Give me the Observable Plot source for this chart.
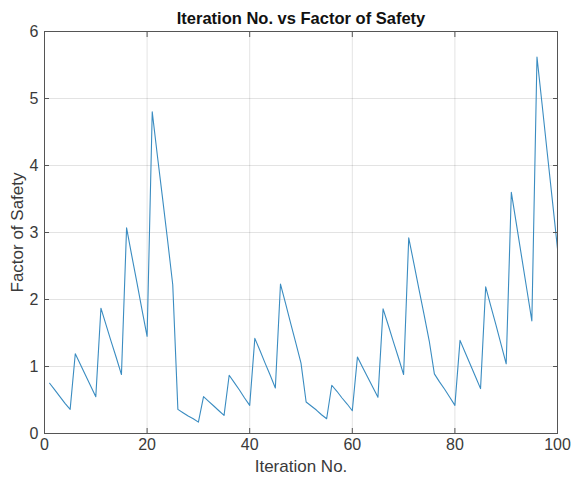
<!DOCTYPE html>
<html>
<head>
<meta charset="utf-8">
<script src="https://cdn.jsdelivr.net/npm/d3@7"></script>
<script src="https://cdn.jsdelivr.net/npm/@observablehq/plot@0.6"></script>
<style>
  html, body { margin: 0; padding: 0; background: #fff; }
  #chart svg { display: block; }
</style>
</head>
<body>
<div id="chart"></div>
<script>
const title = "Iteration No. vs Factor of Safety";
const xLabel = "Iteration No.";
const yLabel = "Factor of Safety";
const xTicks = [0, 20, 40, 60, 80, 100];
const yTicks = [0, 1, 2, 3, 4, 5, 6];

// Factor of safety for iterations 1..100
const factorOfSafety = [
  0.75, 0.65, 0.55, 0.45, 0.36,
  1.19, 1.03, 0.87, 0.71, 0.55,
  1.87, 1.62, 1.37, 1.13, 0.88,
  3.07, 2.66, 2.26, 1.85, 1.45,
  4.80, 4.15, 3.52, 2.88, 2.22,
  0.36, 0.31, 0.26, 0.22, 0.17,
  0.55, 0.48, 0.41, 0.34, 0.27,
  0.87, 0.76, 0.65, 0.53, 0.42,
  1.42, 1.24, 1.05, 0.87, 0.68,
  2.23, 1.94, 1.64, 1.35, 1.05,
  0.47, 0.41, 0.35, 0.28, 0.22,
  0.72, 0.63, 0.53, 0.44, 0.34,
  1.14, 0.99, 0.84, 0.69, 0.54,
  1.86, 1.62, 1.37, 1.13, 0.88,
  2.92, 2.54, 2.15, 1.77, 1.38,
  0.89, 0.77, 0.66, 0.54, 0.42,
  1.39, 1.21, 1.03, 0.85, 0.67,
  2.19, 1.90, 1.62, 1.33, 1.04,
  3.60, 3.12, 2.64, 2.16, 1.68,
  5.62, 4.91, 4.19, 3.48, 2.76
];

const data = factorOfSafety.map((v, i) => ({iteration: i + 1, fos: v}));
const textColor = "#3a3a3a";
const fmt = d3.format("d");

const chart = Plot.plot({
  width: 574,
  height: 485,
  marginLeft: 44,
  marginRight: 17,
  marginTop: 31,
  marginBottom: 52,
  style: {fontFamily: "'Liberation Sans', Arial, Helvetica, sans-serif", background: "#fff"},
  x: {domain: [0, 100]},
  y: {domain: [0, 6]},
  marks: [
    Plot.gridX(xTicks, {stroke: "#000", strokeOpacity: 0.11}),
    Plot.gridY(yTicks, {stroke: "#000", strokeOpacity: 0.11}),
    Plot.line(data, {x: "iteration", y: "fos", stroke: "#3a8cc1", strokeWidth: 1.1}),
    Plot.frame({stroke: "#555", strokeWidth: 1}),
    Plot.axisX({anchor: "bottom", ticks: xTicks, tickSize: 5, dy: -5, tickPadding: 5, tickFormat: fmt, fontSize: 16, color: textColor, stroke: "#555", label: null}),
    Plot.axisX({anchor: "top", ticks: xTicks, tickSize: 5, dy: 5, tickFormat: () => "", stroke: "#555", label: null}),
    Plot.axisY({anchor: "left", ticks: yTicks, tickSize: 5, dx: 5, tickPadding: 6, tickFormat: fmt, fontSize: 16, color: textColor, stroke: "#555", label: null}),
    Plot.axisY({anchor: "right", ticks: yTicks, tickSize: 5, dx: -5, tickFormat: () => "", stroke: "#555", label: null}),
    Plot.text([title], {text: d => d, frameAnchor: "top", lineAnchor: "middle", dy: -13, fontSize: 16.5, fontWeight: "bold", fill: "#111"}),
    Plot.text([xLabel], {text: d => d, frameAnchor: "bottom", lineAnchor: "middle", dy: 33, fontSize: 17, fill: textColor}),
    Plot.text([yLabel], {text: d => d, frameAnchor: "left", textAnchor: "middle", lineAnchor: "middle", dx: -27, rotate: -90, fontSize: 17, fill: textColor})
  ]
});
document.getElementById("chart").appendChild(chart);
</script>
</body>
</html>
